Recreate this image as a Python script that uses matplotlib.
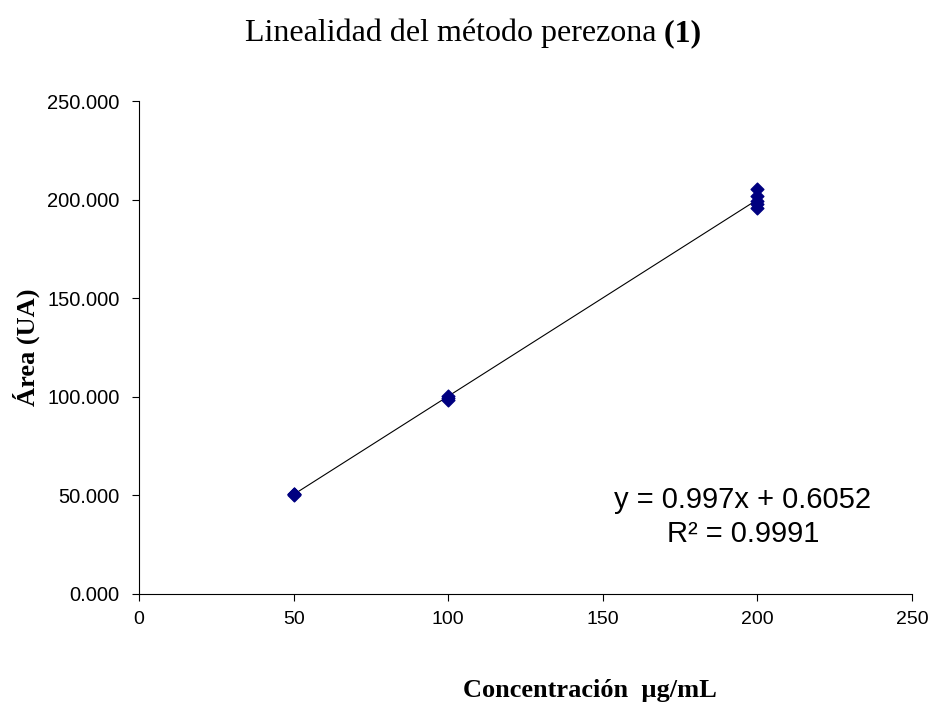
import numpy as np
from matplotlib import pyplot as plt

conc = [50, 50, 50, 100, 100, 100, 200, 200, 200, 200, 200]
area = [50.2, 50.6, 50.9, 98.6, 99.6, 100.5, 196.0, 197.6, 199.4, 201.6, 205.4]
slope = 0.997
intercept = 0.6052
r2 = 0.9991
fit_x = [50, 200]
y_ticks = [0, 50, 100, 150, 200, 250]
x_ticks = [0, 50, 100, 150, 200, 250]


def main():
    fig = plt.figure(figsize=(9.35, 7.1), dpi=100)
    ax = fig.add_axes([0.1487, 0.1634, 0.8267, 0.6943])

    fx = np.array(fit_x)
    ax.plot(fx, slope * fx + intercept, color='black', linewidth=0.8)
    ax.scatter(conc, area, marker='D', s=42, color='#000080', zorder=3)

    ax.set_xlim(0, 250)
    ax.set_ylim(0, 250)
    ax.set_xticks(x_ticks)
    ax.set_yticks(y_ticks)
    ax.set_yticklabels([f'{v}.000' if v else '0.000' for v in y_ticks],
                       fontfamily='Liberation Sans', fontsize=14.5)
    ax.set_xticklabels([str(v) for v in x_ticks],
                       fontfamily='Liberation Sans', fontsize=14)
    for s in ['top', 'right']:
        ax.spines[s].set_visible(False)
    ax.tick_params(axis='y', direction='out', length=5, width=0.8, pad=9)
    ax.tick_params(axis='x', direction='out', length=5, width=0.8, pad=7)

    ax.set_ylabel('Área (UA)', fontfamily='Liberation Serif', fontweight='bold',
                  fontsize=19)
    ax.yaxis.set_label_coords(-0.128, 0.5)
    fig.text(0.631, 0.028, 'Concentración  µg/mL', fontfamily='Liberation Serif',
             fontweight='bold', fontsize=19, ha='center', va='center')

    t = fig.text(0.262, 0.953, 'Linealidad del método perezona',
                 fontfamily='Liberation Serif', fontsize=23, ha='left', va='center')
    ax.annotate(' (1)', xy=(1, 0), xycoords=t, ha='left', va='bottom',
                fontfamily='Liberation Serif', fontsize=23, fontweight='bold')

    ax.text(0.781, 0.156, f'y = {slope}x + {intercept}\nR² = {r2}',
            transform=ax.transAxes, fontfamily='Liberation Sans', fontsize=21,
            ha='center', va='center', linespacing=1.28)

    plt.savefig('out.png', dpi=100)


if __name__ == '__main__':
    main()
